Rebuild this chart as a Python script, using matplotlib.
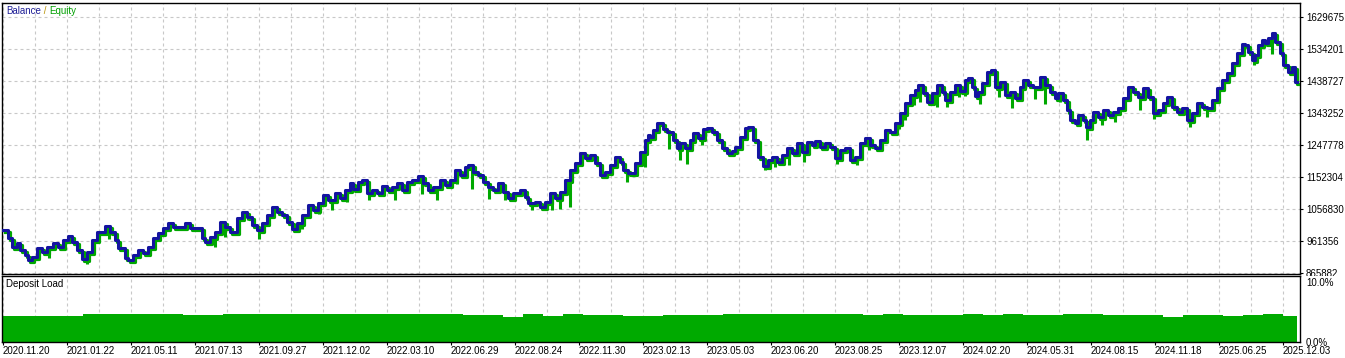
import numpy as np
import matplotlib
matplotlib.use("Agg")
import matplotlib.pyplot as plt
from matplotlib import transforms
from matplotlib.patches import Rectangle

plt.rcParams['font.family'] = ['Liberation Sans', 'DejaVu Sans']

# ---------------- data ----------------
deal_no = [
    0, 5, 9, 14, 17, 22, 25, 29, 34, 39,
    44, 50, 55, 60, 65, 69, 74, 79, 84, 89,
    94, 102, 107, 112, 115, 122, 125, 130, 135, 140,
    145, 150, 155, 160, 165, 170, 175, 182, 187, 194,
    199, 202, 207, 212, 217, 222, 227, 234, 239, 244,
    249, 254, 259, 264, 269, 274, 279, 284, 289, 294,
    299, 305, 310, 315, 320, 325,
    332, 337, 342, 347, 350, 355, 359, 364, 369, 374,
    379, 384, 389, 394, 399, 404, 409, 415, 420, 425,
    430, 437, 442, 447, 452, 457, 462, 465, 470, 475,
    480, 485, 490, 495, 500, 505, 510, 517, 522, 525,
    532, 537, 542, 547, 552, 557, 562, 567, 572, 577,
    582, 587, 592, 597, 602, 607, 612, 617, 620, 625,
    632, 637, 642, 645,
    647, 650, 654, 660, 664, 670, 674, 677, 682, 687,
    690, 695, 700, 704, 709, 714, 719, 724, 729, 732,
    737, 742, 745, 750, 755, 760, 765, 769, 774, 779,
    784, 789, 794, 799, 804, 809, 812, 817, 822, 827,
    832, 837, 842, 847, 852, 857, 862, 867, 872, 877,
    882, 887, 892, 897, 902, 907, 912, 915, 920, 924,
    929, 934, 939, 942, 947, 952, 957, 962, 965,
    969, 972, 975, 979, 984, 988, 992, 997, 1002, 1007,
    1012, 1017, 1020, 1025, 1030, 1037, 1042, 1047, 1052, 1055,
    1060, 1064, 1067, 1072, 1075, 1080, 1083, 1087, 1090, 1095,
    1100, 1105, 1110, 1115, 1120, 1125, 1130, 1135, 1140, 1145,
    1150, 1155, 1160, 1164, 1169, 1174, 1179, 1184, 1189, 1194,
    1199, 1204, 1209, 1214, 1219, 1224, 1229, 1234, 1239, 1242,
    1245, 1249, 1252, 1255, 1259, 1262, 1265, 1269, 1272, 1277,
    1280, 1285, 1289, 1292, 1294,
]

balance = [
    994168, 970299, 943447, 955381, 934496, 919578, 904660, 913611, 940463, 928529,
    943447, 955381, 943447, 964332, 976266, 958365, 934496, 907644, 928529, 964332,
    988201, 1006102, 988201, 964332, 940463, 910627, 904660, 919578, 934496, 925545,
    943447, 970299, 985217, 1000135, 1015053, 1003119, 1003119, 1015053, 1000135, 1000135,
    970299, 958365, 973283, 988201, 1018037, 1003119, 988201, 1029971, 1047873, 1032955,
    1009086, 994168, 1015053, 1038922, 1062791, 1047873, 1038922, 1018037, 997152, 1015053,
    1038922, 1068758, 1053840, 1074725, 1098594, 1083676,
    1104561, 1089643, 1113512, 1134397, 1116496, 1137381, 1143348, 1104561, 1113512, 1104561,
    1125446, 1113512, 1122463, 1134397, 1113512, 1137381, 1143348, 1155282, 1134397, 1113512,
    1122463, 1143348, 1128430, 1143348, 1173184, 1158266, 1182135, 1188102, 1167217, 1158266,
    1137381, 1122463, 1113512, 1134397, 1107545, 1089643, 1104561, 1113512, 1092627, 1074725,
    1077709, 1062791, 1077709, 1104561, 1089643, 1107545, 1143348, 1173184, 1194069, 1223905,
    1208987, 1217938, 1194069, 1158266, 1167217, 1188102, 1211971, 1197053, 1173184, 1164233,
    1194069, 1226889, 1262692, 1277610,
    1271643, 1292528, 1313413, 1295512, 1286561, 1262692, 1238823, 1253741, 1238823, 1262692,
    1283577, 1268659, 1295512, 1298495, 1286561, 1262692, 1238823, 1223905, 1229872, 1241807,
    1271643, 1298495, 1301479, 1262692, 1211971, 1185118, 1203020, 1211971, 1197053, 1217938,
    1238823, 1223905, 1253741, 1226889, 1256725, 1247774, 1259708, 1241807, 1253741, 1241807,
    1208987, 1232856, 1238823, 1203020, 1211971, 1253741, 1268659, 1247774, 1238823, 1262692,
    1292528, 1286561, 1313413, 1343249, 1373085, 1396954, 1411872, 1426790, 1402921, 1376069,
    1402921, 1426790, 1405905, 1382036, 1405905, 1426790, 1408888, 1441708, 1447675,
    1420823, 1393970, 1405905, 1432757, 1465577, 1471544, 1420823, 1435741, 1396954, 1405905,
    1388003, 1420823, 1441708, 1426790, 1420823, 1450659, 1426790, 1405905, 1388003, 1402921,
    1382036, 1352200, 1322364, 1313413, 1337282, 1322364, 1301479, 1322364, 1346233, 1331315,
    1352200, 1337282, 1346233, 1358167, 1388003, 1420823, 1405905, 1390987, 1417839, 1390987,
    1343249, 1352200, 1373085, 1390987, 1361151, 1346233, 1358167, 1322364, 1343249, 1373085,
    1361151, 1358167, 1382036, 1417839, 1441708, 1462593, 1492429, 1522265, 1549118, 1546134,
    1525249, 1501380, 1516298, 1546134, 1561052, 1552101, 1567019, 1581937, 1555085, 1522265,
    1486462, 1465577, 1480495, 1435741, 1435741,
]

# equity drawdown spikes (deal, lowest equity)
dip_deals = [
    44, 82, 89, 104, 145, 210, 220, 243, 254, 297,
    314, 327, 342, 364, 390, 417, 432, 452, 467, 484,
    500, 527, 547, 555, 565, 605, 622, 637, 640, 664,
    675, 682, 697, 760, 770, 784, 799, 832, 837, 852,
    864, 894, 900, 909, 915, 932, 942, 954, 960, 975,
    994, 1007, 1030, 1040, 1055, 1064, 1082, 1097, 1110, 1135,
    1149, 1164, 1185, 1194, 1202, 1219, 1224, 1249, 1267,
]
dip_equity = [
    916594, 898693, 934496, 973283, 928529, 949414, 979250, 1029971, 973283, 1003119,
    1047873, 1059807, 1083676, 1089643, 1089643, 1107545, 1089643, 1137381, 1122463, 1092627,
    1089643, 1059807, 1059807, 1062791, 1068758, 1164233, 1143348, 1197053, 1188102, 1241807,
    1208987, 1197053, 1253741, 1179151, 1188102, 1194069, 1203020, 1197053, 1217938, 1194069,
    1238823, 1301479, 1328331, 1373085, 1382036, 1367118, 1367118, 1396954, 1399938, 1376069,
    1396954, 1364134, 1390987, 1376069, 1382036, 1346233, 1268659, 1313413, 1322364, 1358167,
    1331315, 1373085, 1307446, 1346233, 1337282, 1420823, 1447675, 1492429, 1525249,
]

# deposit load, %, one value per 20 deals
load_pct = [
    4.4, 4.4, 4.4, 4.35, 4.7, 4.6, 4.6, 4.6, 4.6, 4.5,
    4.5, 4.65, 4.7, 4.7, 4.6, 4.6, 4.7, 4.65, 4.7, 4.7,
    4.65, 4.7, 4.6, 4.55, 4.5, 4.25, 4.6, 4.35, 4.6, 4.5,
    4.45, 4.4, 4.4, 4.45, 4.55, 4.5, 4.6, 4.65, 4.7, 4.6,
    4.65, 4.6, 4.6, 4.55, 4.6, 4.5, 4.55, 4.5, 4.6, 4.55,
    4.6, 4.55, 4.5, 4.6, 4.6, 4.45, 4.45, 4.55, 4.25, 4.5,
    4.45, 4.4, 4.55, 4.7, 4.35,
]
load_bin = 20

date_labels = [
    "2020.11.20", "2021.01.22", "2021.05.11", "2021.07.13", "2021.09.27",
    "2021.12.02", "2022.03.10", "2022.06.29", "2022.08.24", "2022.11.30",
    "2023.02.13", "2023.05.03", "2023.06.20", "2023.08.25", "2023.12.07",
    "2024.02.20", "2024.05.31", "2024.08.15", "2024.11.18", "2025.06.25",
    "2025.12.03",
]
y_ticks = [865882, 961356, 1056830, 1152304, 1247778, 1343252, 1438727, 1534201, 1629675]

# ---------------- styling ----------------
BLUE = '#1414A0'
GREEN = '#00A800'
LOAD_GREEN = '#00AA00'
GRID = '#C8C8C8'
FS = 7

W, H = 1345, 358
fig = plt.figure(figsize=(W / 100, H / 100), dpi=100)
fig.patch.set_facecolor('white')


def frac(l, t, r, b):
    return [l / W, 1 - b / H, (r - l) / W, (b - t) / H]


ax = fig.add_axes(frac(2, 3, 1300, 274), zorder=0)
ax2 = fig.add_axes(frac(2, 276, 1300, 342), zorder=2)

deal_arr = np.array(deal_no)
bal_arr = np.array(balance)

# equity (green, drawn slightly offset under the balance line)
shift = transforms.offset_copy(ax.transData, fig=fig, x=1.5, y=-1.5, units='dots')
ax.plot(deal_arr, bal_arr, drawstyle='steps-post', color=GREEN, lw=2.3,
        transform=shift, zorder=3)
idx = np.searchsorted(deal_arr, dip_deals, side='right') - 1
bal_at = bal_arr[idx]
low = np.minimum(np.array(dip_equity), bal_at)
ax.vlines(dip_deals, low, bal_at, colors=GREEN, lw=2.2, transform=shift, zorder=3)
# balance
ax.plot(deal_arr, bal_arr, drawstyle='steps-post', color=BLUE, lw=2.2, zorder=4)

x_max = deal_no[-1] + 3
ax.set_xlim(-1, x_max)
px_val = (y_ticks[1] - y_ticks[0]) / 32.0
ax.set_ylim(y_ticks[0] - 1 * px_val, y_ticks[-1] + 14 * px_val)
ax.yaxis.tick_right()
ax.set_yticks(y_ticks, [str(v) for v in y_ticks])
ax.tick_params(axis='y', direction='out', length=2.2, width=0.8, pad=2.2,
               labelsize=FS, colors='black')
ax.set_xticks(np.arange(0, x_max, 32))
ax.tick_params(axis='x', length=0, labelbottom=False)
ax.grid(True, color=GRID, lw=0.8, ls=(0, (2.7, 2.7)), zorder=1)
ax.set_axisbelow(True)
for s in ax.spines.values():
    s.set_linewidth(1.0)
    s.set_color('black')

# legend title (multi coloured)
t1 = fig.text(6 / W, 1 - 11 / H, "Balance", color='#1E1E96', fontsize=FS,
              va='center', ha='left')
t2 = ax.annotate(" / ", xy=(1, 0), xycoords=t1, va='bottom', ha='left',
                 color='#B89000', fontsize=FS)
t3 = ax.annotate("Equity", xy=(1, 0), xycoords=t2, va='bottom', ha='left',
                 color='#00A000', fontsize=FS)

# ---------------- deposit load ----------------
edges = np.append(np.arange(len(load_pct)) * load_bin, deal_no[-1])
ax2.stairs(load_pct, edges, fill=True, color=LOAD_GREEN, lw=0, zorder=2)
ax2.set_xlim(-1, x_max)
ax2.set_ylim(0, 11)
ax2.yaxis.tick_right()
ax2.set_yticks([0, 10], ['0.0%', '10.0%'])
ax2.tick_params(axis='y', length=0, pad=4.3, labelsize=FS, colors='black')
ax2.set_xticks(np.arange(len(date_labels)) * 64, date_labels)
ax2.set_xticks(np.arange(0, x_max, 32), minor=True)
ax2.tick_params(axis='x', which='major', direction='out', length=2.2, width=0.8,
                pad=1.0, labelsize=FS, colors='black')
ax2.tick_params(axis='x', which='minor', length=0)
for lab in ax2.get_xticklabels():
    lab.set_horizontalalignment('left')
ax2.grid(True, which='both', axis='x', color=GRID, lw=0.8, ls=(0, (2.7, 2.7)), zorder=1)
ax2.set_axisbelow(True)
for s in ax2.spines.values():
    s.set_linewidth(1.0)
    s.set_color('black')
fig.text(6 / W, 1 - 284 / H, "Deposit Load", color='black', fontsize=FS,
         va='center', ha='left', zorder=5)

# white strip that hides the lower half of the last main-axis label
fig.add_artist(Rectangle((1301 / W, 1 - 282 / H), (W - 1301) / W, 6 / H,
                         transform=fig.transFigure, facecolor='white',
                         edgecolor='none', zorder=1))

fig.savefig("out.png", dpi=100, facecolor='white')
